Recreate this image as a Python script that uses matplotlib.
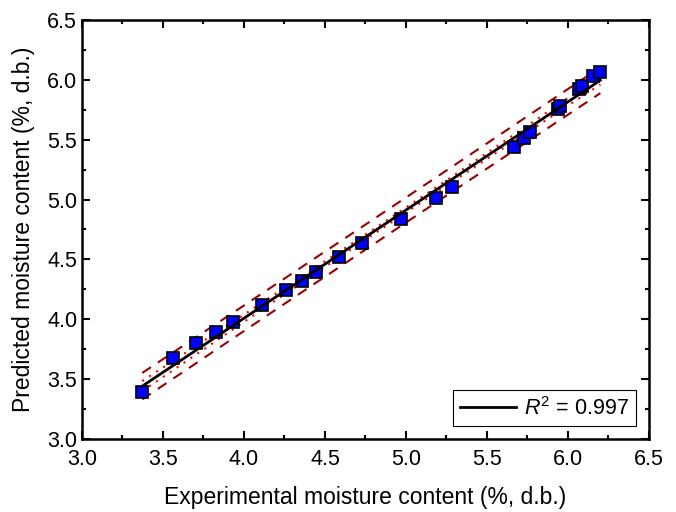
import numpy as np
import matplotlib
matplotlib.use('Agg')
import matplotlib.pyplot as plt
from matplotlib.ticker import MultipleLocator

plt.rcParams['font.family'] = ['Liberation Sans', 'DejaVu Sans']
plt.rcParams['mathtext.fontset'] = 'custom'
plt.rcParams['mathtext.it'] = 'Liberation Sans:italic'
plt.rcParams['mathtext.rm'] = 'Liberation Sans'

# experimental vs predicted moisture content (%, d.b.)
exp_mc = [3.372, 3.564, 3.706, 3.825, 3.930, 4.113, 4.261, 4.356, 4.444, 4.588,
          4.726, 4.967, 5.185, 5.286, 5.667, 5.728, 5.767, 5.936, 5.953, 6.070,
          6.085, 6.156, 6.200]
pred_mc = [3.395, 3.674, 3.800, 3.896, 3.980, 4.117, 4.245, 4.320, 4.393, 4.523,
           4.635, 4.838, 5.013, 5.105, 5.442, 5.515, 5.567, 5.760, 5.785, 5.924,
           5.949, 6.033, 6.069]
r2_text = '$R^2$ = 0.997'

x = np.array(exp_mc)
y = np.array(pred_mc)
n = len(x)

# linear fit with 95% confidence and prediction bands
b, a = np.polyfit(x, y, 1)
resid = y - (a + b * x)
s = np.sqrt(np.sum(resid ** 2) / (n - 2))
t = 2.080  # t(0.975, df=21)
xs = np.linspace(x.min(), x.max(), 200)
ys = a + b * xs
sxx = np.sum((x - x.mean()) ** 2)
conf = t * s * np.sqrt(1.0 / n + (xs - x.mean()) ** 2 / sxx)
pred = t * s * np.sqrt(1 + 1.0 / n + (xs - x.mean()) ** 2 / sxx)

fig = plt.figure(figsize=(6.76, 5.12), dpi=100)
ax = fig.add_axes([0.1213, 0.1426, 0.8387, 0.8184])

ax.plot(xs, ys + pred, color='#990000', lw=1.5, ls=(0, (5, 4)))
ax.plot(xs, ys - pred, color='#990000', lw=1.5, ls=(0, (5, 4)))
ax.plot(xs, ys + conf, color='red', lw=1.5, ls=(0, (1, 3)))
ax.plot(xs, ys - conf, color='red', lw=1.5, ls=(0, (1, 3)))
ax.plot(x, y, 's', ms=8, mfc='#0000ff', mec='black', mew=1.2, zorder=3)
ax.plot(xs, ys, color='black', lw=2.0, label=r2_text, zorder=4)

ax.set_xlim(3.0, 6.5)
ax.set_ylim(3.0, 6.5)
ax.xaxis.set_major_locator(MultipleLocator(0.5))
ax.xaxis.set_minor_locator(MultipleLocator(0.25))
ax.yaxis.set_major_locator(MultipleLocator(0.5))
ax.yaxis.set_minor_locator(MultipleLocator(0.25))
ax.tick_params(which='both', direction='in', top=True, right=True, width=1.5,
               labelsize=15.5)
ax.tick_params(axis='x', which='major', pad=7)
ax.tick_params(which='major', length=6)
ax.tick_params(which='minor', length=3)
for sp in ax.spines.values():
    sp.set_linewidth(1.8)

ax.set_xlabel('Experimental moisture content (%, d.b.)', fontsize=16.5, labelpad=12)
ax.set_ylabel('Predicted moisture content (%, d.b.)', fontsize=16.5, labelpad=9)

leg = ax.legend(loc='lower right', fontsize=15.5, fancybox=False, framealpha=1,
                edgecolor='black', handlelength=2.6, borderaxespad=0.6,
                handletextpad=0.4, borderpad=0.3)
leg.get_frame().set_linewidth(0.8)

fig.savefig('out.png', dpi=100)
